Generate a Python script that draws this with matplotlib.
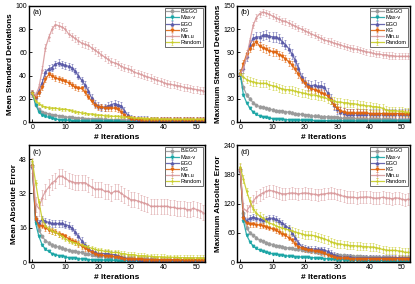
import numpy as np
import matplotlib
matplotlib.use("Agg")
import matplotlib.pyplot as plt

plt.rcParams['font.family'] = ['Liberation Sans', 'DejaVu Sans']

names = ["B.EGO", "Max-v", "EGO", "KG", "Min.u", "Random"]
colors = ["#9a9a9a", "#1aa5a5", "#5a5aa8", "#e0650f", "#d99a9c", "#c8cc28"]
markers = ["o", "v", "^", "v", "+", "+"]

# (a) mean standard deviations
a_bego = [25, 15, 11, 9, 8, 7, 6.5, 6, 5.5, 5, 4.5, 4.2, 4, 3.8, 3.5, 3.3, 3.1, 3, 2.8, 2.6, 2.5, 2.4, 2.3, 2.2, 2.1, 2, 2, 1.9, 1.9, 1.8,
          1.8, 1.7, 1.7, 1.7, 1.6, 1.6, 1.6, 1.6, 1.5, 1.5, 1.5, 1.5, 1.5, 1.5, 1.4, 1.4, 1.4, 1.4, 1.4, 1.4, 1.4, 1.4, 1.4]
a_maxv = [25, 15, 9, 6, 5, 4, 3.2, 2.6, 2.2, 2, 1.7, 1.5, 1.3, 1.2, 1.1, 1, 0.9, 0.9, 0.8, 0.8, 0.7, 0.7, 0.7, 0.6, 0.6, 0.6, 0.6, 0.5, 0.5, 0.5,
          0.5, 0.5, 0.5, 0.5, 0.4, 0.4, 0.4, 0.4, 0.4, 0.4, 0.4, 0.4, 0.4, 0.4, 0.4, 0.4, 0.4, 0.4, 0.4, 0.4, 0.4, 0.4, 0.4]
a_ego = [25, 22, 27, 34, 43, 46, 47, 50, 51, 50, 49, 48, 47, 44, 40, 36, 32, 27, 21, 16, 14, 13, 13, 14, 15, 16, 15, 14, 10, 6,
         3.5, 2.5, 2.2, 2, 2, 1.9, 1.8, 1.8, 1.8, 1.7, 1.7, 1.7, 1.7, 1.6, 1.6, 1.6, 1.6, 1.6, 1.6, 1.6, 1.6, 1.6, 1.6]
a_kg = [25, 22, 25, 30, 37, 41, 40, 38, 37, 36, 35, 34, 32, 30, 29, 29, 26, 22, 18, 15, 13, 13, 12, 12, 12, 12, 11, 9, 6, 4,
        3, 2.5, 2.3, 2.2, 2.1, 2.1, 2, 2, 2, 2, 2, 2, 2, 2, 2, 2, 2, 2, 2, 2, 2, 2, 2]
a_minu = [25, 23, 30, 45, 64, 73, 80, 84, 83, 82, 80, 76, 74, 72, 70, 68, 67, 66, 64, 62, 60, 58, 56, 54, 52, 51, 50, 48, 47, 46,
          45, 43, 42, 41, 40, 39, 38, 37, 36, 35, 34, 33, 32.5, 32, 31.5, 31, 30, 29.5, 29, 28.5, 28, 27.5, 27]
a_rand = [25, 18, 16, 14, 13, 12.5, 12, 12, 11.5, 11, 11, 10.5, 10, 9, 8.5, 8, 7.5, 7, 7, 6.5, 6, 6, 5.5, 5.5, 5, 5, 5, 4.5, 4.5, 4,
          4, 3.5, 3.5, 3.2, 3, 3, 3, 2.8, 2.8, 2.7, 2.7, 2.6, 2.6, 2.5, 2.5, 2.5, 2.5, 2.5, 2.5, 2.5, 2.5, 2.5, 2.5]
a_err = [0.8, 0.5, 3, 2.5, 3, 1.2]

# (b) maximum standard deviations
b_bego = [62, 45, 35, 30, 25, 22, 20, 19, 18, 17, 16, 15, 14, 14, 13, 13, 12, 11, 10, 10, 9, 9, 8, 8, 8, 7, 7, 7, 6, 6,
          6, 5, 5, 5, 5, 5, 4.5, 4.5, 4.5, 4, 4, 4, 4, 3.8, 3.6, 3.5, 3.4, 3.3, 3.2, 3.1, 3, 3, 3]
b_maxv = [62, 35, 25, 18, 13, 10, 8, 7, 6, 5, 4.5, 4, 4, 3.5, 3, 3, 3, 2.5, 2.5, 2.4, 2.3, 2.2, 2.1, 2, 2, 1.9, 1.9, 1.8, 1.8, 1.7,
          1.7, 1.7, 1.6, 1.6, 1.6, 1.6, 1.5, 1.5, 1.5, 1.5, 1.5, 1.5, 1.5, 1.5, 1.5, 1.5, 1.5, 1.5, 1.5, 1.5, 1.5, 1.5, 1.5]
b_ego = [62, 70, 85, 100, 108, 110, 110, 112, 113, 111, 110, 110, 108, 104, 100, 95, 88, 80, 70, 58, 52, 48, 47, 48, 46, 47, 45, 38, 30, 22,
         17, 13, 12, 11, 11, 11, 11, 11, 11, 11, 11, 11, 11, 11, 11, 11, 11, 11, 11, 11, 11, 11, 11]
b_kg = [62, 75, 88, 95, 100, 104, 98, 96, 94, 92, 91, 90, 87, 85, 82, 78, 74, 68, 62, 55, 50, 45, 43, 42, 40, 38, 36, 34, 28, 22,
        18, 15, 13, 12, 12, 12, 11.5, 11.5, 11.5, 11.5, 11, 11, 11, 11, 11, 11, 11, 11, 11, 11, 11, 11, 11]
b_minu = [62, 70, 85, 105, 125, 135, 140, 142, 141, 139, 137, 135, 133, 131, 130, 128, 126, 124, 122, 120, 118, 116, 114, 112, 110, 108, 106, 105, 104, 102,
          101, 100, 98, 97, 96, 95, 94, 93, 92, 91, 90, 89, 88, 88, 87, 87, 86, 86, 85, 85, 85, 85, 85]
b_rand = [62, 58, 55, 53, 52, 51, 50, 50, 50, 48, 47, 46, 44, 43, 42, 42, 41, 40, 39, 38, 37, 36, 35, 35, 34, 33, 32, 30, 28, 27,
          26, 26, 25, 25, 24, 24, 23, 22, 22, 21, 21, 20, 20, 19, 18, 16, 15, 15, 15, 14, 14, 13, 13]
b_err = [2, 1, 6, 5, 4, 5]

# (c) mean absolute error
c_bego = [45, 20, 15, 12, 10, 9, 8, 7.5, 7, 6.5, 6, 5.5, 5, 5, 4.5, 4.5, 4, 4, 3.5, 3.5, 3, 3, 3, 2.5, 2.5, 2.5, 2, 2, 2, 1.8,
          1.7, 1.6, 1.5, 1.5, 1.4, 1.4, 1.3, 1.3, 1.2, 1.2, 1.2, 1.1, 1.1, 1.1, 1, 1, 1, 1, 1, 1, 1, 1, 1]
c_maxv = [45, 18, 12, 8, 6, 5, 4, 3.5, 3, 3, 2.5, 2, 2, 2, 1.5, 1.5, 1.5, 1.2, 1.1, 1, 1, 0.9, 0.9, 0.8, 0.8, 0.8, 0.7, 0.7, 0.7, 0.6,
          0.6, 0.6, 0.6, 0.5, 0.5, 0.5, 0.5, 0.5, 0.5, 0.5, 0.5, 0.5, 0.5, 0.5, 0.5, 0.5, 0.5, 0.5, 0.5, 0.5, 0.5, 0.5, 0.5]
c_ego = [45, 20, 18, 20, 19, 18.5, 18, 18, 18, 18, 17.5, 17, 16, 14, 12, 10, 8, 6.5, 5, 4.5, 4, 4, 4, 4, 3.5, 3.5, 3, 2.5, 2, 1.5,
         1.5, 1.4, 1.3, 1.2, 1.2, 1.1, 1.1, 1.1, 1, 1, 1, 1, 1, 1, 1, 1, 1, 1, 1, 1, 1, 1, 1]
c_kg = [45, 20, 17, 17, 16, 15, 14.5, 14, 13, 12.5, 12, 11, 10, 9.5, 8.5, 7.5, 6.5, 5.5, 4.5, 4, 3.5, 3.5, 3, 3, 3, 2.5, 2.5, 2, 1.5, 1.5,
        1.5, 1.4, 1.3, 1.3, 1.2, 1.2, 1.2, 1.1, 1.1, 1.1, 1, 1, 1, 1, 1, 1, 1, 1, 1, 1, 1, 1, 1]
c_minu = [45, 27, 25, 30, 33, 35, 37, 38, 40, 40, 39, 38, 37.5, 37, 37, 37, 37, 36, 35, 34, 34, 34, 33, 33, 32, 33, 33, 32, 31, 30,
          29, 29, 28.5, 28, 27.5, 27, 26, 26, 26, 26, 26, 26, 25.5, 25.5, 25, 25, 25, 24.5, 24.5, 25, 24.5, 24, 23]
c_rand = [47, 37, 28, 20, 17, 15.5, 14.5, 14, 13, 12, 11, 10, 9.5, 9, 8.5, 8, 7.5, 7, 6.5, 6, 5.5, 5.5, 5, 5, 4.5, 4.5, 4.5, 4, 4, 3.5,
          3.5, 3.5, 3, 3, 3, 2.8, 2.7, 2.6, 2.5, 2.5, 2.4, 2.3, 2.3, 2.2, 2.2, 2.1, 2.1, 2, 2, 2, 2, 2, 2]
c_err = [0.8, 0.4, 1.5, 1.3, 3.5, 1.2]

# (d) maximum absolute error
d_bego = [190, 100, 70, 60, 55, 50, 45, 43, 40, 38, 36, 34, 33, 32, 30, 29, 28, 27, 26, 25, 24, 23, 22, 21, 20, 19, 18, 17, 16, 15,
          15, 14, 14, 13, 13, 12, 12, 12, 11, 11, 11, 10, 10, 10, 10, 10, 10, 9, 9, 9, 9, 9, 9]
d_maxv = [190, 85, 55, 42, 33, 28, 25, 22, 20, 18, 17, 16, 15, 14, 13, 12, 12, 11, 11, 10, 10, 10, 9, 9, 8, 8, 7, 7, 6, 6,
          5, 5, 5, 4, 4, 4, 4, 4, 3, 3, 3, 3, 3, 3, 3, 3, 3, 2, 2, 2, 2, 2, 2]
d_ego = [190, 95, 85, 90, 92, 90, 88, 87, 88, 90, 90, 88, 85, 80, 75, 70, 60, 50, 40, 32, 30, 28, 27, 27, 26, 26, 25, 22, 18, 14,
         12, 11, 10, 10, 10, 9, 9, 9, 9, 9, 9, 9, 9, 9, 9, 9, 9, 9, 9, 9, 9, 9, 9]
d_kg = [190, 90, 80, 78, 78, 77, 76, 75, 72, 70, 68, 65, 62, 58, 55, 50, 45, 38, 32, 28, 26, 25, 24, 23, 22, 20, 18, 15, 12, 10,
        9, 8, 8, 8, 7, 7, 7, 7, 7, 7, 7, 7, 7, 7, 7, 7, 7, 7, 7, 7, 7, 7, 7]
d_minu = [190, 110, 105, 115, 125, 133, 138, 142, 145, 147, 146, 144, 142, 140, 140, 141, 142, 141, 140, 141, 142, 141, 140, 139, 138, 139, 140, 141, 142, 141,
          139, 137, 135, 134, 133, 133, 132, 133, 133, 134, 133, 132, 131, 132, 133, 132, 131, 130, 132, 131, 129, 128, 129]
d_rand = [195, 170, 145, 125, 110, 100, 95, 90, 85, 80, 78, 75, 72, 70, 68, 66, 64, 62, 60, 58, 56, 55, 55, 54, 52, 50, 48, 45, 42, 40,
          38, 37, 36, 35, 34, 34, 33, 33, 32, 32, 31, 31, 30, 28, 26, 25, 24, 24, 24, 23, 22, 20, 20]
d_err = [3, 2, 6, 5, 12, 8]

panels = [
    ("(a)", "Mean Standard Deviations", [a_bego, a_maxv, a_ego, a_kg, a_minu, a_rand], a_err, 100, [0, 20, 40, 60, 80, 100]),
    ("(b)", "Maximum Standard Deviations", [b_bego, b_maxv, b_ego, b_kg, b_minu, b_rand], b_err, 150, [0, 30, 60, 90, 120, 150]),
    ("(c)", "Mean Absolute Error", [c_bego, c_maxv, c_ego, c_kg, c_minu, c_rand], c_err, 54.5, [0, 16, 32, 48]),
    ("(d)", "Maximum Absolute Error", [d_bego, d_maxv, d_ego, d_kg, d_minu, d_rand], d_err, 240, [0, 60, 120, 180, 240]),
]

positions = [
    [0.070, 0.570, 0.424, 0.409],
    [0.571, 0.570, 0.417, 0.409],
    [0.070, 0.077, 0.424, 0.412],
    [0.571, 0.077, 0.417, 0.412],
]

fig = plt.figure(figsize=(4.15, 2.84), dpi=100)

for (tag, ylab, series, errs, ytop, yticks), pos in zip(panels, positions):
    ax = fig.add_axes(pos)
    for y, err, name, c, m in zip(series, errs, names, colors, markers):
        x = np.arange(len(y))
        ax.errorbar(x, y, yerr=err, color=c, marker=m, markersize=1.8, lw=0.9,
                    ecolor=c, elinewidth=0.4, capsize=1, capthick=0.4,
                    label=name, alpha=0.9)
    ax.set_xlim(-1, 52.5)
    ax.set_ylim(0, ytop)
    ax.set_yticks(yticks)
    ax.set_xticks([0, 10, 20, 30, 40, 50])
    ax.tick_params(direction='in', labelsize=5, length=2, width=0.6, pad=1.5)
    for s in ax.spines.values():
        s.set_linewidth(1.0)
    ax.set_ylabel(ylab, fontsize=5.9, fontweight='bold', labelpad=1)
    ax.set_xlabel("# Iterations", fontsize=6, fontweight='bold', labelpad=2)
    ax.text(0.02, 0.97, tag, transform=ax.transAxes, fontsize=5.5, va='top', ha='left')
    leg = ax.legend(loc='upper right', fontsize=4, frameon=True, fancybox=False,
                    edgecolor='black', borderpad=0.3, labelspacing=0.2,
                    handlelength=2.2, handletextpad=0.4, borderaxespad=0.3)
    leg.get_frame().set_linewidth(0.5)

fig.savefig("out.png", dpi=100)
